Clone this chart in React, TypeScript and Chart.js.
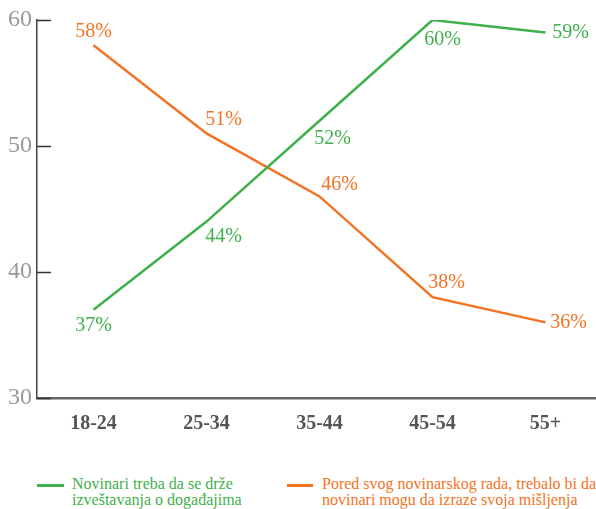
import React, { useEffect, useRef } from "react";
import { Chart, registerables } from "chart.js";

Chart.register(...registerables);

const categories = ["18-24", "25-34", "35-44", "45-54", "55+"];
const greenLabel = ["Novinari treba da se drže", "izveštavanja o događajima"];
const orangeLabel = ["Pored svog novinarskog rada, trebalo bi da", "novinari mogu da izraze svoja mišljenja"];
const greenValues = [37, 44, 52, 60, 59];
const orangeValues = [58, 51, 46, 38, 36];
const yTicks = [30, 40, 50, 60];

const GREEN = "#3fb04b";
const ORANGE = "#f37324";
const SERIF = "'Liberation Serif', 'DejaVu Serif', serif";

// label offsets (style only)
const greenOffsets = [[0, 16], [17, 15], [13, 18], [10, 20], [25, 0]];
const orangeOffsets = [[0, -13], [17, -14], [20, -12], [14, -14], [23, 0]];

const labelPlugin = {
  id: "pointLabels",
  afterDatasetsDraw(chart: any) {
    const ctx = chart.ctx;
    ctx.save();
    ctx.font = `20px ${SERIF}`;
    ctx.textAlign = "center";
    ctx.textBaseline = "middle";
    chart.data.datasets.forEach((ds: any, i: number) => {
      const meta = chart.getDatasetMeta(i);
      const offs = i === 0 ? greenOffsets : orangeOffsets;
      ctx.fillStyle = ds.borderColor;
      meta.data.forEach((pt: any, j: number) => {
        ctx.fillText(`${ds.data[j]}%`, pt.x + offs[j][0], pt.y + offs[j][1]);
      });
    });
    ctx.restore();
  },
};

const innerTicks = {
  id: "innerTicks",
  afterDraw(chart: any) {
    const ctx = chart.ctx;
    const y = chart.scales.y;
    const left = chart.chartArea.left;
    ctx.save();
    ctx.strokeStyle = "#333";
    ctx.lineWidth = 1.5;
    yTicks.forEach((v) => {
      const py = Math.round(y.getPixelForValue(v)) + 0.5;
      ctx.beginPath();
      ctx.moveTo(left, py);
      ctx.lineTo(left + 14, py);
      ctx.stroke();
    });
    ctx.restore();
  },
};

export default function App() {
  const ref = useRef<HTMLCanvasElement>(null);
  useEffect(() => {
    if (!ref.current) return;
    const chart = new Chart(ref.current, {
      type: "line",
      data: {
        labels: categories,
        datasets: [
          {
            label: greenLabel.join(" "),
            data: greenValues,
            borderColor: GREEN,
            backgroundColor: GREEN,
            borderWidth: 2.5,
            pointRadius: 0,
            tension: 0,
          },
          {
            label: orangeLabel.join(" "),
            data: orangeValues,
            borderColor: ORANGE,
            backgroundColor: ORANGE,
            borderWidth: 2.5,
            pointRadius: 0,
            tension: 0,
          },
        ],
      },
      options: {
        animation: false,
        responsive: false,
        devicePixelRatio: 1,
        layout: { padding: { top: 20, right: 2, left: 0, bottom: 0 } },
        plugins: { legend: { display: false }, tooltip: { enabled: false } },
        scales: {
          x: {
            offset: true,
            grid: { display: true, drawOnChartArea: false, drawTicks: false },
            border: { display: true, color: "#666", width: 2.5 },
            ticks: { color: "#555", padding: 14, font: { family: SERIF, size: 20, weight: "bold" } },
            afterFit: (s: any) => { s.height = 47; },
          },
          y: {
            min: 30,
            max: 60,
            afterBuildTicks: (s: any) => { s.ticks = yTicks.map((v) => ({ value: v })); },
            grid: { display: true, drawOnChartArea: false, drawTicks: false },
            border: { display: true, color: "#444", width: 1.5 },
            ticks: { color: "#999", padding: 5, font: { family: SERIF, size: 24 } },
            afterFit: (s: any) => { s.width = 37; },
          },
        },
      },
      plugins: [labelPlugin, innerTicks],
    });
    return () => chart.destroy();
  }, []);

  const legendText: React.CSSProperties = {
    position: "absolute",
    fontFamily: SERIF,
    fontSize: 16,
    lineHeight: "16px",
    whiteSpace: "nowrap",
  };
  return (
    <div style={{ position: "absolute", left: 0, top: 0, width: 596, height: 509, overflow: "hidden", background: "#fff" }}>
      <canvas ref={ref} width={604} height={445} style={{ position: "absolute", left: 0, top: 0 }} />
      <div style={{ position: "absolute", left: 37, top: 484, width: 27, height: 3, background: GREEN }} />
      <div style={{ ...legendText, left: 72, top: 476, color: GREEN }}>
        {greenLabel[0]}<br />{greenLabel[1]}
      </div>
      <div style={{ position: "absolute", left: 287, top: 484, width: 26, height: 3, background: ORANGE }} />
      <div style={{ ...legendText, left: 322, top: 476, color: ORANGE }}>
        {orangeLabel[0]}<br />{orangeLabel[1]}
      </div>
    </div>
  );
}
